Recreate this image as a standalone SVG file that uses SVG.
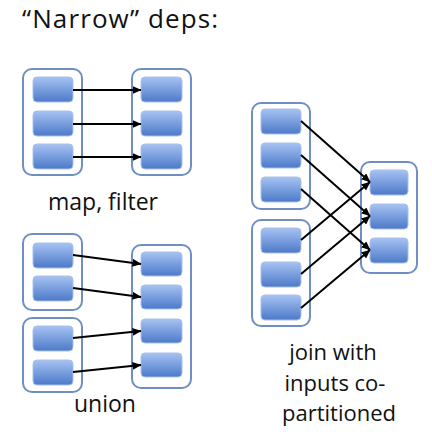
<svg xmlns="http://www.w3.org/2000/svg" width="432" height="432" viewBox="0 0 432 432">
<defs>
<linearGradient id="g" x1="0" y1="0" x2="0" y2="1">
<stop offset="0" stop-color="#a6c3f2"/>
<stop offset="1" stop-color="#4c79c9"/>
</linearGradient>
<marker id="ah" markerUnits="userSpaceOnUse" markerWidth="9" markerHeight="8" refX="8.5" refY="4" orient="auto">
<path d="M0,0 L9,4 L0,8 z" fill="#000"/>
</marker>
<style>
.c{fill:#fff;stroke:#6f8fc2;stroke-width:2}
.b{fill:url(#g);stroke:#a9c0e6;stroke-width:1}
.a{stroke:#000;stroke-width:2;fill:none;marker-end:url(#ah)}
.t{font-family:"Open Sans","Liberation Sans",sans-serif;fill:#111;font-size:23px}
</style>
</defs>
<rect width="432" height="432" fill="#fff"/>
<text class="t" x="22" y="28" style="font-size:26px" textLength="196" lengthAdjust="spacing">“Narrow” deps:</text>

<g id="mapfilter-parent">
<rect class="c" x="23" y="69" width="59" height="106" rx="9"/>
<rect class="b" x="33" y="77" width="40" height="25" rx="4"/>
<rect class="b" x="33" y="111" width="40" height="25" rx="4"/>
<rect class="b" x="33" y="144" width="40" height="25" rx="4"/>
</g>
<g id="mapfilter-child">
<rect class="c" x="132" y="69" width="59" height="106" rx="9"/>
<rect class="b" x="141" y="77" width="41" height="25" rx="4"/>
<rect class="b" x="141" y="111" width="41" height="25" rx="4"/>
<rect class="b" x="141" y="144" width="41" height="25" rx="4"/>
</g>
<text class="t" x="103" y="210" text-anchor="middle">map, filter</text>

<g id="union-parent1">
<rect class="c" x="23" y="234" width="59" height="76" rx="9"/>
<rect class="b" x="33" y="243" width="40" height="25" rx="4"/>
<rect class="b" x="33" y="276" width="40" height="25" rx="4"/>
</g>
<g id="union-parent2">
<rect class="c" x="23" y="318" width="59" height="74" rx="9"/>
<rect class="b" x="33" y="326" width="40" height="25" rx="4"/>
<rect class="b" x="33" y="360" width="40" height="25" rx="4"/>
</g>
<g id="union-child">
<rect class="c" x="132" y="245" width="59" height="143" rx="9"/>
<rect class="b" x="141" y="252" width="41" height="24" rx="4"/>
<rect class="b" x="141" y="285" width="41" height="24" rx="4"/>
<rect class="b" x="141" y="319" width="41" height="24" rx="4"/>
<rect class="b" x="141" y="353" width="41" height="24" rx="4"/>
</g>
<text class="t" x="105" y="412" text-anchor="middle">union</text>

<g id="join-parent1">
<rect class="c" x="252" y="103" width="58" height="106" rx="9"/>
<rect class="b" x="261" y="109" width="40" height="25" rx="4"/>
<rect class="b" x="261" y="143" width="40" height="25" rx="4"/>
<rect class="b" x="261" y="177" width="40" height="25" rx="4"/>
</g>
<g id="join-parent2">
<rect class="c" x="252" y="220" width="58" height="106" rx="9"/>
<rect class="b" x="261" y="228" width="40" height="25" rx="4"/>
<rect class="b" x="261" y="262" width="40" height="25" rx="4"/>
<rect class="b" x="261" y="295" width="40" height="25" rx="4"/>
</g>
<g id="join-child">
<rect class="c" x="361" y="162" width="56" height="111" rx="9"/>
<rect class="b" x="370" y="170" width="38" height="25" rx="4"/>
<rect class="b" x="370" y="204" width="38" height="25" rx="4"/>
<rect class="b" x="370" y="238" width="38" height="25" rx="4"/>
</g>
<text class="t" x="333" y="360" text-anchor="middle" style="font-size:22px">join with</text>
<text class="t" x="335" y="391" text-anchor="middle" style="font-size:22px">inputs co-</text>
<text class="t" x="339" y="421" text-anchor="middle" style="font-size:22px">partitioned</text>

<g id="connectors">
<line class="a" x1="73" y1="90" x2="141" y2="90"/>
<line class="a" x1="73" y1="124" x2="141" y2="124"/>
<line class="a" x1="73" y1="157" x2="141" y2="157"/>
<line class="a" x1="73" y1="255" x2="141" y2="264"/>
<line class="a" x1="73" y1="288" x2="141" y2="297"/>
<line class="a" x1="73" y1="338" x2="141" y2="331"/>
<line class="a" x1="73" y1="372" x2="141" y2="365"/>
<line class="a" x1="301" y1="121" x2="370" y2="182"/>
<line class="a" x1="301" y1="155" x2="370" y2="216"/>
<line class="a" x1="301" y1="189" x2="370" y2="250"/>
<line class="a" x1="301" y1="240" x2="370" y2="182"/>
<line class="a" x1="301" y1="274" x2="370" y2="216"/>
<line class="a" x1="301" y1="308" x2="370" y2="250"/>
</g>
</svg>
